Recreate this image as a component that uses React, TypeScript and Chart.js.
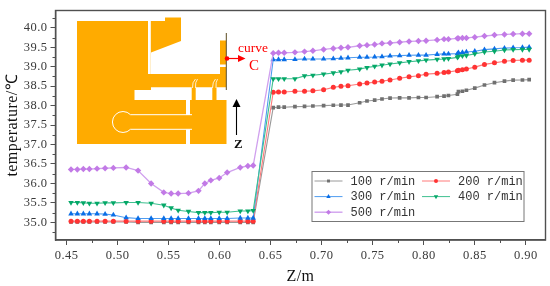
import React, { useEffect, useRef } from "react";
import { Chart, registerables } from "chart.js";
import { drawPoint } from "chart.js/helpers";

Chart.register(...registerables);

const zValues = [
  0.4544, 0.4606, 0.4665, 0.4724, 0.4799, 0.4878, 0.4959, 0.5084, 0.5201, 0.5329, 0.5453,
  0.5525, 0.5594, 0.5695, 0.5793, 0.5855, 0.5914, 0.5996, 0.6074, 0.6202, 0.6277, 0.6329,
  0.6525, 0.6577, 0.6633, 0.6738, 0.6832, 0.6914, 0.7019, 0.7114, 0.7189, 0.7258, 0.7372,
  0.7444, 0.7519, 0.7591, 0.767, 0.7764, 0.7856, 0.7948, 0.8023, 0.8131, 0.8199, 0.8242,
  0.833, 0.834, 0.8379, 0.8418, 0.85, 0.8595, 0.8693, 0.8791, 0.8876, 0.8967, 0.9033,
];
const rpm100 = [
  35.01, 35.01, 35.01, 35.01, 35.01, 35.01, 35.01, 35.01, 35.0, 35.0, 35.0,
  35.0, 35.0, 35.0, 35.0, 35.0, 35.0, 35.0, 35.0, 35.0, 35.0, 35.0,
  37.95, 37.96, 37.96, 37.975, 37.98, 37.99, 38.0, 38.01, 38.015, 38.015, 38.075,
  38.12, 38.14, 38.17, 38.195, 38.2, 38.2, 38.21, 38.21, 38.23, 38.245, 38.26,
  38.295, 38.36, 38.37, 38.395, 38.45, 38.53, 38.59, 38.63, 38.655, 38.66, 38.67,
];
const rpm200 = [
  35.03, 35.03, 35.03, 35.03, 35.03, 35.03, 35.03, 35.03, 35.03, 35.03, 35.03,
  35.03, 35.03, 35.03, 35.03, 35.03, 35.03, 35.03, 35.03, 35.03, 35.03, 35.03,
  38.345, 38.35, 38.35, 38.37, 38.37, 38.38, 38.41, 38.47, 38.5, 38.51, 38.555,
  38.58, 38.605, 38.63, 38.66, 38.705, 38.74, 38.77, 38.81, 38.83, 38.85, 38.865,
  38.9, 38.91, 38.925, 38.94, 38.99, 39.06, 39.1, 39.14, 39.16, 39.17, 39.17,
];
const rpm300 = [
  35.22, 35.22, 35.22, 35.22, 35.22, 35.21, 35.19, 35.12, 35.1, 35.1, 35.1,
  35.1, 35.1, 35.1, 35.1, 35.1, 35.1, 35.1, 35.1, 35.11, 35.11, 35.11,
  39.185, 39.185, 39.185, 39.19, 39.2, 39.2, 39.2, 39.21, 39.22, 39.23, 39.245,
  39.245, 39.25, 39.26, 39.28, 39.285, 39.295, 39.3, 39.3, 39.32, 39.33, 39.33,
  39.335, 39.36, 39.37, 39.38, 39.4, 39.44, 39.46, 39.48, 39.49, 39.495, 39.505,
];
const rpm400 = [
  35.51, 35.51, 35.5, 35.49, 35.49, 35.5, 35.5, 35.51, 35.51, 35.49, 35.44,
  35.37, 35.31, 35.28, 35.25, 35.25, 35.25, 35.26, 35.26, 35.29, 35.29, 35.3,
  38.69, 38.69, 38.69, 38.69, 38.765, 38.78, 38.81, 38.84, 38.87, 38.91, 38.94,
  38.98, 39.01, 39.04, 39.07, 39.1, 39.13, 39.15, 39.17, 39.19, 39.2, 39.21,
  39.24, 39.27, 39.28, 39.29, 39.33, 39.38, 39.4, 39.43, 39.44, 39.445, 39.445,
];
const rpm500 = [
  36.36, 36.36, 36.37, 36.37, 36.38, 36.39, 36.4, 36.41, 36.33, 36.0, 35.77,
  35.74, 35.74, 35.75, 35.81, 36.0, 36.08, 36.14, 36.28, 36.41, 36.45, 36.46,
  39.35, 39.36, 39.36, 39.37, 39.39, 39.41, 39.445, 39.47, 39.49, 39.5, 39.54,
  39.555, 39.57, 39.6, 39.61, 39.63, 39.65, 39.66, 39.67, 39.69, 39.71, 39.71,
  39.73, 39.73, 39.74, 39.74, 39.76, 39.79, 39.815, 39.83, 39.84, 39.85, 39.85,
];
const seriesLabels = ["100 r/min", "200 r/min", "300 r/min", "400 r/min", "500 r/min"];
const seriesValues = [rpm100, rpm200, rpm300, rpm400, rpm500];
const lineColors = ["#9a9a9a", "#ff7a7a", "#4f9cf0", "#3fc090", "#d0a0ee"];
const markColors = ["#707070", "#ff3333", "#0a6ee6", "#05a868", "#c27ae6"];
const markShapes = ["rect", "circle", "triangle", "triangle", "rectRot"];
const markRadius = [2.6, 2.5, 3.2, 3.2, 3.2];
const markRotation = [0, 0, 0, 180, 0];

const xMajor = [0.45, 0.5, 0.55, 0.6, 0.65, 0.7, 0.75, 0.8, 0.85, 0.9];
const xMinor = [0.475, 0.525, 0.575, 0.625, 0.675, 0.725, 0.775, 0.825, 0.875];
const yMajor = [35, 35.5, 36, 36.5, 37, 37.5, 38, 38.5, 39, 39.5, 40];
const yMinor = [34.75, 35.25, 35.75, 36.25, 36.75, 37.25, 37.75, 38.25, 38.75, 39.25, 39.75, 40.25];

const FRAME = "#505050";

const framePlugin = {
  id: "frame",
  beforeDraw(chart: any) {
    chart.ctx.letterSpacing = "0.45px";
  },
  afterDatasetsDraw(chart: any) {
    const { ctx, chartArea: a, scales } = chart;
    ctx.save();
    ctx.letterSpacing = "0px";
    ctx.strokeStyle = FRAME;
    ctx.lineWidth = 1.4;
    ctx.strokeRect(a.left, a.top, a.right - a.left, a.bottom - a.top);
    ctx.lineWidth = 1;
    ctx.beginPath();
    xMinor.forEach((v) => {
      const x = Math.round(scales.x.getPixelForValue(v)) + 0.5;
      ctx.moveTo(x, a.bottom);
      ctx.lineTo(x, a.bottom + 3);
    });
    yMinor.forEach((v) => {
      const y = Math.round(scales.y.getPixelForValue(v)) + 0.5;
      ctx.moveTo(a.left, y);
      ctx.lineTo(a.left - 3, y);
    });
    ctx.stroke();

    // legend, built from the datasets
    const box = { l: 312, t: 171.5, w: 212, h: 50 };
    ctx.strokeStyle = "#777";
    ctx.lineWidth = 1;
    ctx.fillStyle = "#fff";
    ctx.fillRect(box.l, box.t, box.w, box.h);
    ctx.strokeRect(box.l, box.t, box.w, box.h);
    ctx.font = "12px 'Liberation Mono'";
    ctx.textBaseline = "middle";
    ctx.textAlign = "left";
    chart.data.datasets.forEach((d: any, i: number) => {
      const col = i % 2;
      const row = Math.floor(i / 2);
      const lx = box.l + 2.5 + col * 107.5;
      const y = box.t + 9.5 + row * 15.6;
      ctx.strokeStyle = d.borderColor;
      ctx.lineWidth = i === 4 ? 1.4 : 1;
      ctx.beginPath();
      ctx.moveTo(lx, y);
      ctx.lineTo(lx + 28, y);
      ctx.stroke();
      ctx.fillStyle = d.pointBackgroundColor;
      ctx.strokeStyle = d.pointBackgroundColor;
      drawPoint(ctx, { pointStyle: d.pointStyle, rotation: d.pointRotation, radius: d.pointRadius * 0.8, borderWidth: 0 } as any, lx + 14, y);
      ctx.fillStyle = "#333";
      ctx.fillText(d.label, lx + 36, y + 0.5);
    });
    ctx.restore();
    ctx.letterSpacing = "0.45px";
  },
};

export default function App() {
  const ref = useRef<HTMLCanvasElement | null>(null);
  useEffect(() => {
    const chart = new Chart(ref.current as HTMLCanvasElement, {
      type: "line",
      data: {
        datasets: seriesValues.map((vals, i) => ({
          label: seriesLabels[i],
          data: vals.map((y, k) => ({ x: zValues[k], y })),
          borderColor: lineColors[i],
          borderWidth: i === 4 ? 1.3 : 1.1,
          pointBackgroundColor: markColors[i],
          pointBorderWidth: 0,
          pointStyle: markShapes[i],
          pointRadius: markRadius[i],
          pointRotation: markRotation[i],
          tension: 0,
          fill: false,
          order: 4 - i,
        })),
      },
      options: {
        animation: false,
        responsive: false,
        layout: { padding: { left: 0, right: 4.5, top: 6, bottom: 0 } },
        plugins: { legend: { display: false }, tooltip: { enabled: false } },
        scales: {
          x: {
            type: "linear",
            min: 0.4392,
            max: 0.9193,
            afterBuildTicks: (s: any) => {
              s.ticks = xMajor.map((value) => ({ value }));
            },
            afterFit: (s: any) => {
              s.height = 46;
            },
            grid: { drawOnChartArea: false, color: FRAME, tickLength: 5 },
            border: { color: FRAME, width: 1.4 },
            ticks: {
              autoSkip: false,
              maxRotation: 0,
              padding: 3,
              color: "#3a3a3a",
              font: { family: "'Liberation Serif'", size: 12.5 },
              callback: (v: any) => Number(v).toFixed(2),
            },
            title: {
              display: true,
              text: "Z/m",
              color: "#111",
              padding: { top: 5, bottom: 0 },
              font: { family: "'Liberation Serif'", size: 16 },
            },
          },
          y: {
            type: "linear",
            min: 34.546,
            max: 40.446,
            afterBuildTicks: (s: any) => {
              s.ticks = yMajor.map((value) => ({ value }));
            },
            afterFit: (s: any) => {
              s.width = 55.5;
            },
            grid: { drawOnChartArea: false, color: FRAME, tickLength: 5 },
            border: { color: FRAME, width: 1.4 },
            ticks: {
              autoSkip: false,
              padding: 3,
              color: "#3a3a3a",
              font: { family: "'Liberation Serif'", size: 12.5 },
              callback: (v: any) => Number(v).toFixed(1),
            },
            title: {
              display: true,
              text: "temperature/℃",
              color: "#111",
              padding: { top: 3, bottom: 0 },
              font: { family: "'Liberation Serif'", size: 16 },
            },
          },
        },
      },
      plugins: [framePlugin],
    } as any);
    return () => chart.destroy();
  }, []);

  const orange = "#ffab00";
  return (
    <div style={{ position: "fixed", left: 0, top: 0, width: 550, height: 286, background: "#fff" }}>
      <canvas ref={ref} width={550} height={286} style={{ position: "absolute", left: 0, top: 0, display: "block" }} />
      <svg width={550} height={286} style={{ position: "absolute", left: 0, top: 0, pointerEvents: "none" }}>
        <path d="M77 21H165V17.5H181V41L151 52.5V74H220V40.5H226V100H226.5V144H77Z" fill={orange} />
        <rect x={148} y={21} width={2.8} height={53} fill="#fff" />
        <rect x={220} y={64.5} width={6.5} height={2.5} fill="#fff" />
        <path d="M134.5 90H151V87.3H227V100H134.5Z" fill="#fff" />
        <rect x={191.7} y={86} width={4} height={14.5} fill={orange} />
        <rect x={212.3} y={86} width={4.2} height={14.5} fill={orange} />
        <rect x={186} y={100} width={4} height={15} fill="#fff" />
        <rect x={186} y={129.5} width={4} height={15} fill="#fff" />
        <path d="M130.5 114.7A10.5 10.5 0 1 0 130.5 129.3M130.5 114.7H192M130.5 129.3H192" fill="none" stroke="#fff" strokeWidth={1} />
        <path d="M195.5 79Q192 82 192.5 88M197.5 79Q195 82 195.5 88M215.5 79Q212.5 82 212.5 88M217.5 79Q215.5 82 216 88" fill="none" stroke="#fff" strokeWidth={0.8} />
        <line x1={226.3} y1={33} x2={226.3} y2={90} stroke="#5a4a20" strokeWidth={1} />
        <circle cx={227} cy={58.5} r={2.3} fill="#f00" />
        <line x1={227} y1={58.5} x2={240} y2={58.5} stroke="#f00" strokeWidth={1.2} />
        <path d="M245.5 58.5L238 55V62Z" fill="#f00" />
        <text x={238} y={52} fontFamily="'Liberation Serif'" fontSize={13.5} fill="#f00">curve</text>
        <text x={249} y={70} fontFamily="'Liberation Serif'" fontSize={15} fill="#f00">C</text>
        <line x1={236.5} y1={107} x2={236.5} y2={135} stroke="#000" strokeWidth={1.1} />
        <path d="M236.5 99L232.5 107H240.5Z" fill="#000" />
        <text x={234} y={148} fontFamily="'Liberation Serif'" fontWeight="bold" fontSize={13} fill="#111">Z</text>
      </svg>
    </div>
  );
}
